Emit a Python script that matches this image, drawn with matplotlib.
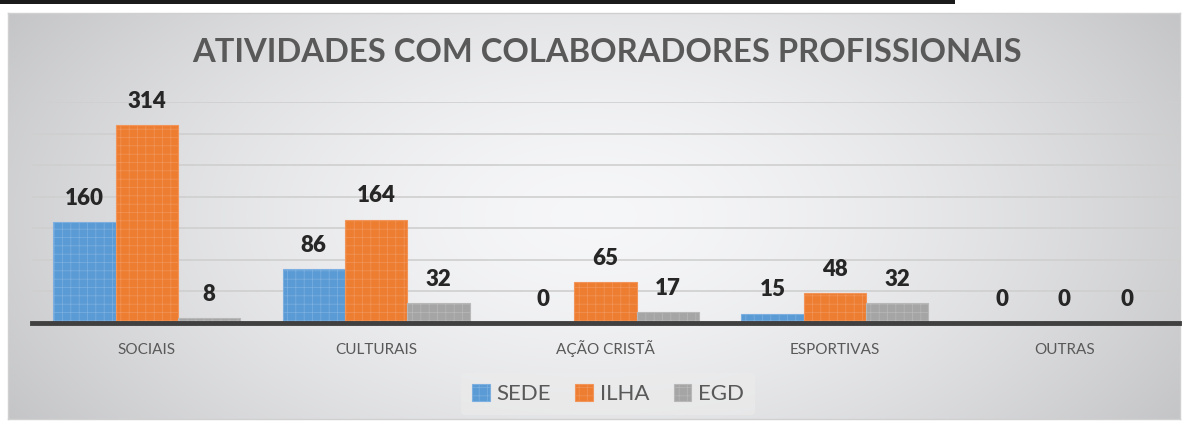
import numpy as np
import matplotlib
matplotlib.use("Agg")
import matplotlib.pyplot as plt
from matplotlib.patches import Rectangle

categories = ["SOCIAIS", "CULTURAIS", "AÇÃO CRISTÃ", "ESPORTIVAS", "OUTRAS"]
series_names = ["SEDE", "ILHA", "EGD"]
sede = [160, 86, 0, 15, 0]
ilha = [314, 164, 65, 48, 0]
egd = [8, 32, 17, 32, 0]
title = "ATIVIDADES COM COLABORADORES PROFISSIONAIS"

colors = ["#5B9BD5", "#ED7D31", "#A5A5A5"]
hatch_colors = ["#7DB0E0", "#F2955A", "#B8B8B8"]

plt.rcParams['font.family'] = ['Lato', 'DejaVu Sans']
plt.rcParams['hatch.linewidth'] = 0.5

W, H = 1188, 421
fig = plt.figure(figsize=(W / 100, H / 100), dpi=100)
fig.patch.set_facecolor("white")

def fx(px):
    return px / W

def fy(py):
    return 1 - py / H

# background gradient panel
bx0, bx1, by0, by1 = 8, 1180, 13, 419
bg_ax = fig.add_axes([fx(bx0), fy(by1), fx(bx1 - bx0), (by1 - by0) / H])
nx, ny = 400, 140
xx, yy = np.meshgrid(np.linspace(-1, 1, nx), np.linspace(-1, 1, ny))
r = np.sqrt((xx / 1.0) ** 2 + (yy / 1.6) ** 2)
r = np.clip(r, 0, 1.2)
v = 0.965 - 0.2 * (r / 1.2) ** 1.6
img = np.dstack([v, v + 0.002, v + 0.01])
img = np.clip(img, 0, 1)
bg_ax.imshow(img, aspect="auto", extent=[0, 1, 0, 1], interpolation="bicubic")
bg_ax.set_xlim(0, 1)
bg_ax.set_ylim(0, 1)
bg_ax.set_xticks([])
bg_ax.set_yticks([])
for s in bg_ax.spines.values():
    s.set_color("#d0d0d0")
    s.set_linewidth(1)

# top black bar
fig.patches.append(Rectangle((0, fy(4)), fx(955), 4 / H, transform=fig.transFigure,
                             facecolor="#1a1a1a", edgecolor="none", zorder=5))

# main axes
ax_left, ax_right = 32, 1179
ax_bottom, ax_top = 323, 102.3
ax = fig.add_axes([fx(ax_left), fy(ax_bottom), fx(ax_right - ax_left), (ax_bottom - ax_top) / H])
ax.patch.set_alpha(0)
ax.set_xlim(-0.5, len(categories) - 0.5)
ax.set_ylim(0, 350)
ax.set_yticks(np.arange(0, 351, 50))
ax.yaxis.grid(True, color="#cfcfcf", linewidth=1.2)
ax.set_axisbelow(True)
ax.tick_params(axis="y", left=False, labelleft=False)
for s in ["left", "right", "top"]:
    ax.spines[s].set_visible(False)
ax.spines["bottom"].set_color("#404040")
ax.spines["bottom"].set_linewidth(3.5)
ax.spines["bottom"].set_zorder(4)

x = np.arange(len(categories))
bw = 0.272
data = [sede, ilha, egd]
for i, (vals, c, hc, name) in enumerate(zip(data, colors, hatch_colors, series_names)):
    pos = x + (i - 1) * bw
    ax.bar(pos, vals, width=bw, color=c, edgecolor=hc, linewidth=0.8,
           hatch="++", label=name, zorder=3)
    for p, val in zip(pos, vals):
        ax.annotate(str(val), xy=(p, val), xytext=(0, 17), textcoords="offset points",
                    ha="center", va="center", fontsize=16, fontweight="heavy",
                    color="#262626", annotation_clip=False)

ax.set_xticks(x)
ax.set_xticklabels(categories, fontsize=11, color="#595959")
for lbl in ax.get_xticklabels():
    lbl.set_verticalalignment("baseline")
ax.tick_params(axis="x", length=0, pad=22)

fig.text(fx(607), fy(52), title, ha="center", va="center", fontsize=23.6,
         fontweight="bold", color="#595959")

leg = fig.legend(loc="center", bbox_to_anchor=(fx(608), fy(394)), ncol=3, frameon=True,
                 fontsize=16, handlelength=0.8, handleheight=0.8, handletextpad=0.3,
                 columnspacing=1.1, borderpad=0.5)
leg.get_frame().set_facecolor("#ececec")
leg.get_frame().set_edgecolor("none")
leg.get_frame().set_alpha(0.6)
for t in leg.get_texts():
    t.set_color("#595959")

fig.savefig("out.png", dpi=100, facecolor="white")
